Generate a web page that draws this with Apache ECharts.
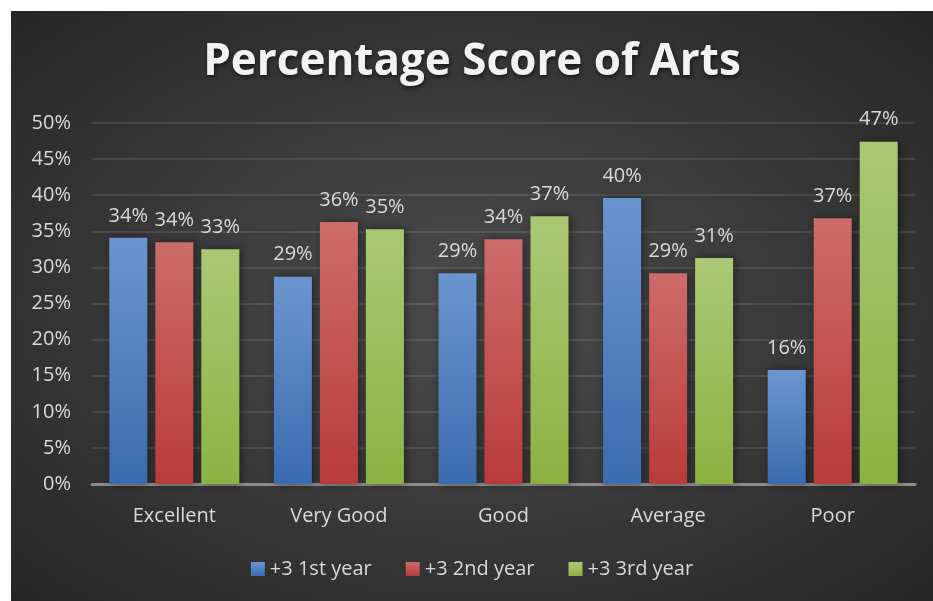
<!DOCTYPE html>
<html>
<head>
<meta charset="utf-8">
<script src="https://cdn.jsdelivr.net/npm/echarts@6/dist/echarts.min.js"></script>
<style>
    html, body { margin: 0; padding: 0; background: #ffffff; }
    #panel {
        position: absolute;
        left: 11px; top: 11px;
        width: 922px; height: 590px;
        background: radial-gradient(ellipse at 50% 50%, #4b4b4b 0%, #3a3a3a 50%, #262626 100%);
    }
    #chart { width: 922px; height: 590px; }
</style>
</head>
<body>
<div id="panel"><div id="chart"></div></div>
<script>
    // categories and values (percent)
    var categories = ['Excellent', 'Very Good', 'Good', 'Average', 'Poor'];
    var seriesNames = ['+3 1st year', '+3 2nd year', '+3 3rd year'];
    var firstYear = [34.1, 28.7, 29.2, 39.6, 15.8];
    var secondYear = [33.5, 36.3, 33.9, 29.2, 36.8];
    var thirdYear = [32.5, 35.3, 37.1, 31.3, 47.4];

    var colors = [
        ['#6b95d0', '#3b6cb0'],
        ['#cd6c6a', '#b93b3b'],
        ['#aac874', '#8cb342']
    ];

    function grad(c) {
        return new echarts.graphic.LinearGradient(0, 0, 0, 1, [
            {offset: 0, color: c[0]},
            {offset: 1, color: c[1]}
        ]);
    }

    function makeSeries(name, data, c) {
        return {
            name: name,
            type: 'bar',
            data: data,
            barGap: '21%',
            barCategoryGap: '21%',
            itemStyle: {
                color: grad(c),
                shadowColor: 'rgba(0,0,0,0.45)',
                shadowBlur: 8,
                shadowOffsetX: 2
            },
            label: {
                show: true,
                position: 'top',
                distance: 12,
                color: '#d9d9d9',
                fontSize: 20,
                fontFamily: 'Open Sans',
                formatter: function (p) { return Math.round(p.value) + '%'; }
            }
        };
    }

    var chart = echarts.init(document.getElementById('chart'));
    var option = {
        backgroundColor: 'transparent',
        title: {
            text: 'Percentage Score of Arts',
            left: 'center',
            top: 24,
            textStyle: {
                color: '#f2f2f2',
                fontSize: 44,
                fontWeight: 'bold',
                fontFamily: 'Open Sans',
                textShadowColor: 'rgba(0,0,0,0.6)',
                textShadowBlur: 4,
                textShadowOffsetX: 1,
                textShadowOffsetY: 2
            }
        },
        legend: {
            data: seriesNames,
            top: 543,
            left: 'center',
            itemWidth: 14,
            itemHeight: 14,
            itemGap: 34,
            icon: 'rect',
            textStyle: { color: '#d9d9d9', fontSize: 20, fontFamily: 'Open Sans' }
        },
        grid: { left: 81, right: 18, top: 112, bottom: 117 },
        xAxis: {
            type: 'category',
            data: categories,
            axisTick: { show: false },
            axisLine: { lineStyle: { color: '#8c8c8c', width: 3 } },
            axisLabel: { color: '#d9d9d9', fontSize: 20, margin: 22, fontFamily: 'Open Sans' }
        },
        yAxis: {
            type: 'value',
            min: 0,
            max: 50,
            interval: 5,
            axisLine: { show: false },
            axisTick: { show: false },
            axisLabel: {
                color: '#d9d9d9', fontSize: 20, margin: 21, fontFamily: 'Open Sans',
                formatter: '{value}%'
            },
            splitLine: { lineStyle: { color: 'rgba(255,255,255,0.13)', width: 1.5 } }
        },
        series: [
            makeSeries(seriesNames[0], firstYear, colors[0]),
            makeSeries(seriesNames[1], secondYear, colors[1]),
            makeSeries(seriesNames[2], thirdYear, colors[2])
        ]
    };
    chart.setOption(option);
</script>
</body>
</html>
